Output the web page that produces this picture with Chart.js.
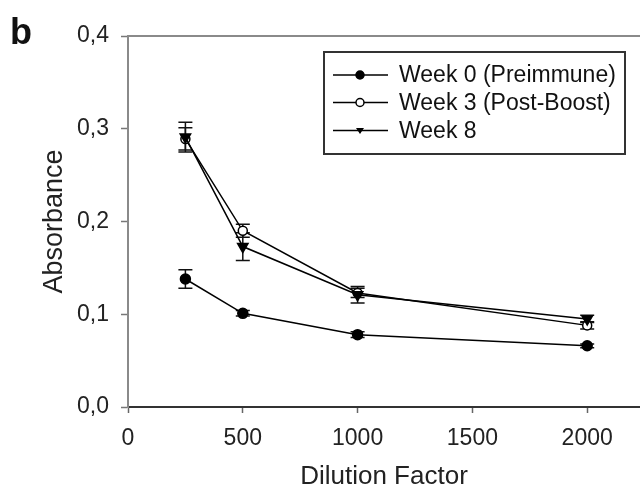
<!DOCTYPE html>
<html><head><meta charset="utf-8">
<script src="https://cdn.jsdelivr.net/npm/chart.js@4/dist/chart.umd.min.js"></script>
<style>html,body{margin:0;padding:0;background:#fff}#wrap{width:640px;height:490px;position:relative}</style>
</head><body><div id="wrap"><canvas id="c" width="640" height="490"></canvas></div>
<script>
const dilutions = [250, 500, 1000, 2000];
const week0 = [0.138, 0.101, 0.078, 0.066];
const week0Err = [0.010, 0.003, 0.003, 0.002];
const week3 = [0.289, 0.190, 0.123, 0.088];
const week3Err = [0.012, 0.007, 0.005, 0.004];
const week8 = [0.291, 0.173, 0.121, 0.095];
const week8Err = [0.016, 0.015, 0.009, 0.004];
const seriesNames = ['Week 0 (Preimmune)', 'Week 3 (Post-Boost)', 'Week 8'];
const xTicks = [0, 500, 1000, 1500, 2000];
const xTickLabels = ['0', '500', '1000', '1500', '2000'];
const yTicks = [0, 0.1, 0.2, 0.3, 0.4];
const yTickLabels = ['0,0', '0,1', '0,2', '0,3', '0,4'];
const panelLabel = 'b';
const xTitle = 'Dilution Factor';
const yTitle = 'Absorbance';

const FONT = '"Liberation Sans", Arial, sans-serif';

function pts(ys) { return dilutions.map((x, i) => ({x: x, y: ys[i]})); }
function labelFor(ticks, labels, v) {
  const i = ticks.findIndex(t => Math.abs(t - v) < 1e-9);
  return i >= 0 ? labels[i] : '';
}

const errs = [week0Err, week3Err, week8Err];

const errorBarPlugin = {
  id: 'errorBars',
  beforeDatasetsDraw(chart) {
    const ctx = chart.ctx, xs = chart.scales.x, ys = chart.scales.y;
    ctx.save();
    ctx.strokeStyle = '#111';
    ctx.lineWidth = 1.5;
    chart.data.datasets.forEach((ds, di) => {
      ds.data.forEach((p, i) => {
        const e = errs[di][i];
        const px = xs.getPixelForValue(p.x);
        const y1 = ys.getPixelForValue(p.y + e), y2 = ys.getPixelForValue(p.y - e);
        ctx.beginPath();
        ctx.moveTo(px, y1); ctx.lineTo(px, y2);
        ctx.moveTo(px - 7, y1); ctx.lineTo(px + 7, y1);
        ctx.moveTo(px - 7, y2); ctx.lineTo(px + 7, y2);
        ctx.stroke();
      });
    });
    ctx.restore();
  }
};

function drawMarker(ctx, kind, x, y, r) {
  ctx.beginPath();
  if (kind === 'tri') {
    ctx.moveTo(x - r, y - r * 0.6);
    ctx.lineTo(x + r, y - r * 0.6);
    ctx.lineTo(x, y + r * 0.9);
    ctx.closePath();
    ctx.fillStyle = '#000'; ctx.fill();
  } else {
    ctx.arc(x, y, r, 0, Math.PI * 2);
    ctx.fillStyle = kind === 'open' ? '#fff' : '#000';
    ctx.fill();
    ctx.lineWidth = 1.5; ctx.strokeStyle = '#000'; ctx.stroke();
  }
}

const decorPlugin = {
  id: 'decor',
  afterDraw(chart) {
    const ctx = chart.ctx, a = chart.chartArea;
    ctx.save();
    ctx.strokeStyle = '#8a8a8a';
    ctx.lineWidth = 2;
    ctx.beginPath();
    ctx.moveTo(a.left - 1, a.top); ctx.lineTo(a.right, a.top);
    ctx.stroke();
    ctx.fillStyle = '#111';
    ctx.font = 'bold 36px ' + FONT;
    ctx.textBaseline = 'alphabetic';
    ctx.textAlign = 'left';
    ctx.fillText(panelLabel, 10, 44);
    ctx.strokeStyle = '#333';
    ctx.lineWidth = 2;
    ctx.strokeRect(324, 52, 301, 102);
    const rows = [75, 102.5, 130.5];
    const kinds = ['fill', 'open', 'tri'];
    ctx.font = '23px ' + FONT;
    ctx.textBaseline = 'middle';
    rows.forEach((ry, i) => {
      ctx.strokeStyle = '#000';
      ctx.lineWidth = 1.5;
      ctx.beginPath();
      ctx.moveTo(333, ry); ctx.lineTo(388, ry);
      ctx.stroke();
      drawMarker(ctx, kinds[i], 360, ry, 4);
      ctx.fillStyle = '#111';
      ctx.fillText(seriesNames[i], 399, ry + 1);
    });
    ctx.restore();
  }
};

new Chart(document.getElementById('c'), {
  type: 'scatter',
  data: {
    datasets: [
      { label: seriesNames[0], data: pts(week0), showLine: true, borderColor: '#000', borderWidth: 1.5, order: 2,
        pointStyle: 'circle', pointRadius: 5, pointBackgroundColor: '#000', pointBorderColor: '#000' },
      { label: seriesNames[1], data: pts(week3), showLine: true, borderColor: '#000', borderWidth: 1.5, order: 1,
        pointStyle: 'circle', pointRadius: 4.5, pointBackgroundColor: '#fff', pointBorderColor: '#000', pointBorderWidth: 1.5 },
      { label: seriesNames[2], data: pts(week8), showLine: true, borderColor: '#000', borderWidth: 1.5, order: 0,
        pointStyle: 'triangle', pointRotation: 180, pointRadius: 6, pointBackgroundColor: '#000', pointBorderColor: '#000' }
    ]
  },
  options: {
    responsive: false,
    animation: false,
    devicePixelRatio: 1,
    layout: { autoPadding: false, padding: { left: 0, top: 36, right: 0, bottom: 0 } },
    plugins: { legend: { display: false }, tooltip: { enabled: false } },
    scales: {
      x: {
        type: 'linear', min: 0, max: 2230,
        afterFit(s) { s.height = 83; s.paddingLeft = 0; s.paddingRight = 0; },
        afterBuildTicks(s) { s.ticks = xTicks.map(v => ({value: v})); },
        border: { display: true, color: '#333', width: 2 },
        grid: { display: true, drawOnChartArea: false, drawTicks: true, tickLength: 6, tickColor: '#666', tickWidth: 1.5 },
        ticks: { color: '#222', font: { family: FONT, size: 23 }, padding: 12, maxRotation: 0,
          callback(v) { return labelFor(xTicks, xTickLabels, v); } },
        title: { display: true, text: xTitle, color: '#222', font: { family: FONT, size: 26, lineHeight: 1 }, padding: { top: 0, bottom: 0 } }
      },
      y: {
        type: 'linear', min: 0, max: 0.4,
        afterFit(s) { s.width = 128; },
        afterBuildTicks(s) { s.ticks = yTicks.map(v => ({value: v})); },
        border: { display: true, color: '#8a8a8a', width: 2 },
        grid: { display: true, drawOnChartArea: false, drawTicks: true, tickLength: 7, tickColor: '#777', tickWidth: 1.5 },
        ticks: { color: '#222', font: { family: FONT, size: 23 }, padding: 12,
          callback(v) { return labelFor(yTicks, yTickLabels, v); } },
        title: { display: true, text: yTitle, color: '#222', font: { family: FONT, size: 27 }, padding: { top: 38, bottom: 0 } }
      }
    }
  },
  plugins: [errorBarPlugin, decorPlugin]
});
</script></body></html>
